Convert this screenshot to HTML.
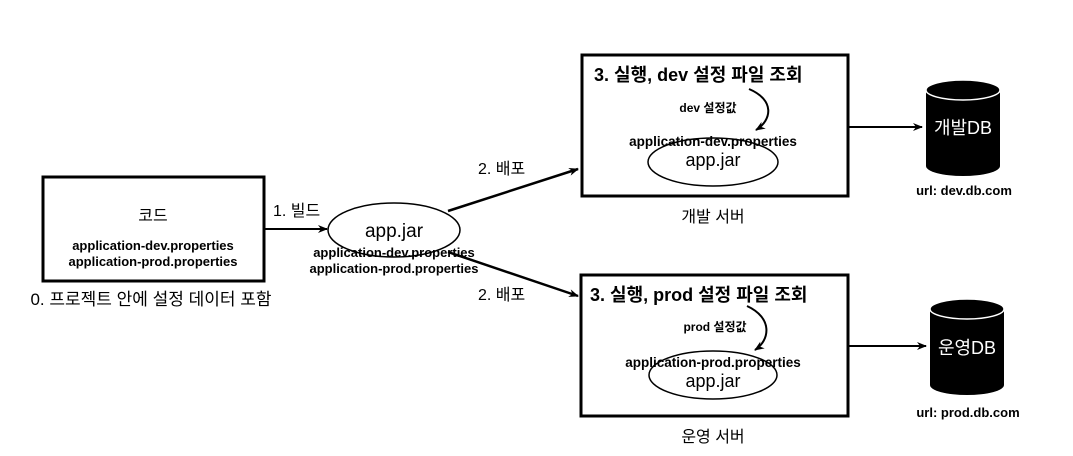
<!DOCTYPE html>
<html><head><meta charset="utf-8"><style>
body{margin:0;background:#fff;}
svg text{font-family:"Liberation Sans","Noto Sans CJK KR",sans-serif;}
</style></head><body>
<svg width="1073" height="451" viewBox="0 0 1073 451" xmlns="http://www.w3.org/2000/svg">
<defs>
<marker id="a" markerWidth="10" markerHeight="10" refX="9" refY="5" orient="auto" markerUnits="userSpaceOnUse">
<path d="M0,1 L10,5 L0,9 L3,5 Z" fill="#000"/></marker>
</defs>
<rect x="43" y="177" width="221" height="104" fill="#fff" stroke="#000" stroke-width="3"/>
<text x="153" y="221" font-size="16" text-anchor="middle">코드</text>
<text x="153" y="250" font-size="13" font-weight="bold" text-anchor="middle">application-dev.properties</text>
<text x="153" y="266" font-size="13" font-weight="bold" text-anchor="middle">application-prod.properties</text>
<text x="151" y="305" font-size="17" text-anchor="middle">0. 프로젝트 안에 설정 데이터 포함</text>
<line x1="264" y1="229" x2="327" y2="229" stroke="#000" stroke-width="2" marker-end="url(#a)"/>
<text x="273" y="216" font-size="16">1. 빌드</text>
<ellipse cx="394" cy="230" rx="66" ry="27" fill="#fff" stroke="#000" stroke-width="1.5"/>
<text x="394" y="237" font-size="19" text-anchor="middle">app.jar</text>
<line x1="448" y1="211" x2="578" y2="169" stroke="#000" stroke-width="2.5" marker-end="url(#a)"/>
<line x1="448" y1="252" x2="578" y2="296" stroke="#000" stroke-width="2.5" marker-end="url(#a)"/>
<text x="394" y="257" font-size="13" font-weight="bold" text-anchor="middle">application-dev.properties</text>
<text x="394" y="273" font-size="13" font-weight="bold" text-anchor="middle">application-prod.properties</text>
<text x="478" y="174" font-size="16">2. 배포</text>
<text x="478" y="300" font-size="16">2. 배포</text>
<rect x="582" y="55" width="266" height="141" fill="#fff" stroke="#000" stroke-width="3"/>
<text x="594" y="81" font-size="18" font-weight="bold">3. 실행, dev 설정 파일 조회</text>
<text x="708" y="112" font-size="12" font-weight="bold" text-anchor="middle">dev 설정값</text>
<path d="M749,89 C775,100 772,120 756,130" fill="none" stroke="#000" stroke-width="2" marker-end="url(#a)"/>
<ellipse cx="713" cy="162" rx="65" ry="24" fill="#fff" stroke="#000" stroke-width="1.5"/>
<text x="713" y="146" font-size="13.5" font-weight="bold" text-anchor="middle">application-dev.properties</text>
<text x="713" y="166" font-size="18" text-anchor="middle">app.jar</text>
<text x="713" y="222" font-size="16" text-anchor="middle">개발 서버</text>
<line x1="848" y1="127" x2="922" y2="127" stroke="#000" stroke-width="2" marker-end="url(#a)"/>
<path d="M926,90 L926,166 A37,10 0 0 0 1000,166 L1000,90 Z" fill="#000"/>
<ellipse cx="963" cy="90" rx="37" ry="10" fill="#000" stroke="#fff" stroke-width="1.5"/>
<text x="963" y="134" font-size="18" fill="#fff" text-anchor="middle">개발DB</text>
<text x="964" y="195" font-size="13" font-weight="bold" text-anchor="middle">url: dev.db.com</text>
<rect x="581" y="275" width="267" height="141" fill="#fff" stroke="#000" stroke-width="3"/>
<text x="590" y="301" font-size="18" font-weight="bold">3. 실행, prod 설정 파일 조회</text>
<text x="715" y="331" font-size="12" font-weight="bold" text-anchor="middle">prod 설정값</text>
<path d="M747,306 C773,318 770,340 755,350" fill="none" stroke="#000" stroke-width="2" marker-end="url(#a)"/>
<ellipse cx="713" cy="375" rx="64" ry="24" fill="#fff" stroke="#000" stroke-width="1.5"/>
<text x="713" y="367" font-size="13.5" font-weight="bold" text-anchor="middle">application-prod.properties</text>
<text x="713" y="387" font-size="18" text-anchor="middle">app.jar</text>
<text x="713" y="442" font-size="16" text-anchor="middle">운영 서버</text>
<line x1="848" y1="346" x2="926" y2="346" stroke="#000" stroke-width="2" marker-end="url(#a)"/>
<path d="M930,309 L930,385 A37,10 0 0 0 1004,385 L1004,309 Z" fill="#000"/>
<ellipse cx="967" cy="309" rx="37" ry="10" fill="#000" stroke="#fff" stroke-width="1.5"/>
<text x="967" y="354" font-size="18" fill="#fff" text-anchor="middle">운영DB</text>
<text x="968" y="417" font-size="13" font-weight="bold" text-anchor="middle">url: prod.db.com</text>
</svg>
</body></html>
